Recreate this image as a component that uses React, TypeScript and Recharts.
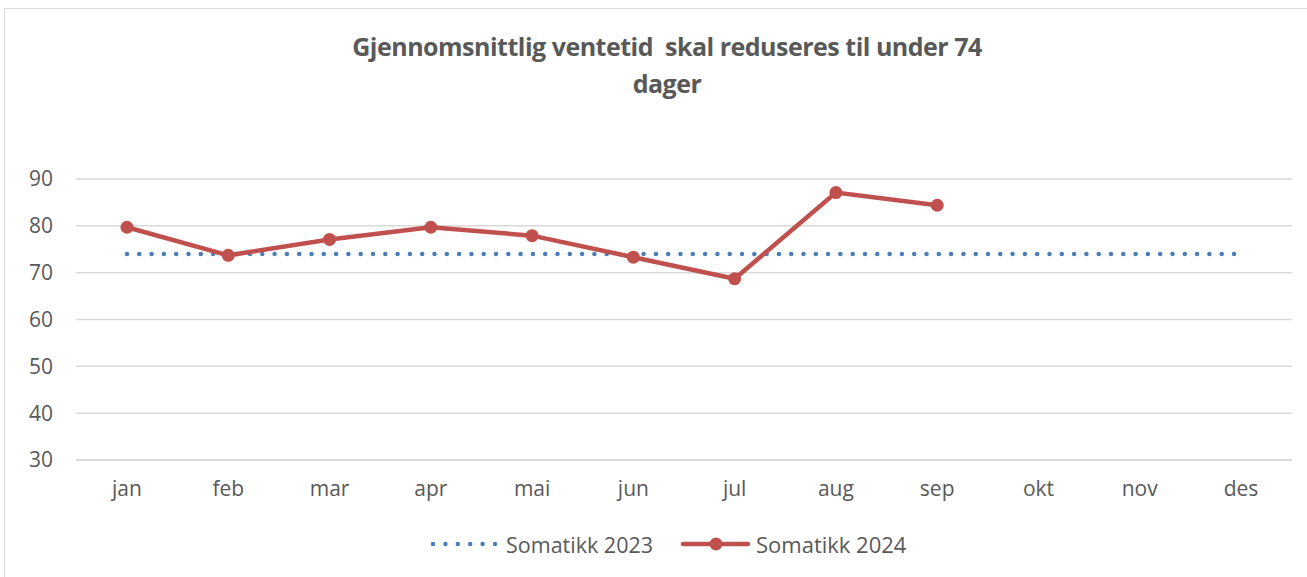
import React from 'react';
import { LineChart, Line, XAxis, YAxis, CartesianGrid } from 'recharts';

const months = ['jan', 'feb', 'mar', 'apr', 'mai', 'jun', 'jul', 'aug', 'sep', 'okt', 'nov', 'des'];
const somatikk2023 = [74, 74, 74, 74, 74, 74, 74, 74, 74, 74, 74, 74];
const somatikk2024: (number | null)[] = [79.7, 73.7, 77.1, 79.7, 77.9, 73.3, 68.7, 87.1, 84.4, null, null, null];
const yTicks = [30, 40, 50, 60, 70, 80, 90];

const TEXT = '#595959';
const BLUE = '#4a7ebb';
const RED = '#c0504d';
const FONT = "'Open Sans', sans-serif";

const data = months.map((m, i) => ({
    month: m,
    s2023: somatikk2023[i],
    s2024: somatikk2024[i],
}));

// legend drawn as an overlay, so it doesn't eat plot height
const ChartLegend = () => (
    <svg width={1307} height={577} style={{ position: 'absolute', left: 0, top: 0, pointerEvents: 'none' }}>
        <line x1={433} y1={544} x2={496} y2={544} stroke={BLUE} strokeWidth={4.5} strokeDasharray="0 12.4" strokeLinecap="round" />
        <text x={506} y={544} dominantBaseline="central" fill={TEXT} fontSize={21.5} fontFamily={FONT}>Somatikk 2023</text>
        <line x1={683} y1={544} x2={748} y2={544} stroke={RED} strokeWidth={4.5} strokeLinecap="round" />
        <circle cx={716} cy={544} r={6.5} fill={RED} />
        <text x={756} y={544} dominantBaseline="central" fill={TEXT} fontSize={22} fontFamily={FONT}>Somatikk 2024</text>
    </svg>
);

const App: React.FC = () => {
    return (
        <div style={{ position: 'absolute', left: 0, top: 0, width: 1307, height: 577, overflow: 'hidden', background: '#fff' }}>
            <div style={{ position: 'absolute', left: 4, top: 8, width: 1320, height: 600, border: '1.5px solid #d9d9d9', boxSizing: 'border-box' }} />
            <div style={{ position: 'absolute', left: 0, top: 28, width: 1334, textAlign: 'center', fontFamily: FONT, fontWeight: 700, fontSize: 25, lineHeight: '37px', color: TEXT, letterSpacing: -0.5 }}>
                Gjennomsnittlig ventetid&nbsp; skal reduseres til under 74<br />dager
            </div>
            <LineChart
                width={1307}
                height={577}
                data={data}
                margin={{ top: 179, right: 15, bottom: 87, left: 16 }}
                style={{ position: 'absolute', left: 0, top: 0 }}
            >
                <CartesianGrid vertical={false} stroke="#d9d9d9" strokeWidth={1.5} />
                <XAxis
                    dataKey="month"
                    height={30}
                    padding={{ left: 51, right: 51 }}
                    axisLine={{ stroke: '#d9d9d9', strokeWidth: 1.5 }}
                    tickLine={false}
                    tickMargin={15}
                    tick={{ fill: TEXT, fontSize: 21, fontFamily: FONT }}
                />
                <YAxis
                    width={60}
                    domain={[30, 90]}
                    ticks={yTicks}
                    axisLine={false}
                    tickLine={false}
                    tickMargin={17}
                    tick={{ fill: TEXT, fontSize: 21, fontFamily: FONT }}
                />
                <Line
                    type="linear"
                    dataKey="s2023"
                    name="Somatikk 2023"
                    stroke={BLUE}
                    strokeWidth={4.5}
                    strokeDasharray="0 12.3"
                    strokeLinecap="round"
                    dot={false}
                    isAnimationActive={false}
                />
                <Line
                    type="linear"
                    dataKey="s2024"
                    name="Somatikk 2024"
                    stroke={RED}
                    strokeWidth={4.5}
                    dot={{ r: 6.5, fill: RED, stroke: RED, strokeWidth: 0 }}
                    isAnimationActive={false}
                />
            </LineChart>
            <ChartLegend />
        </div>
    );
};

export default App;
